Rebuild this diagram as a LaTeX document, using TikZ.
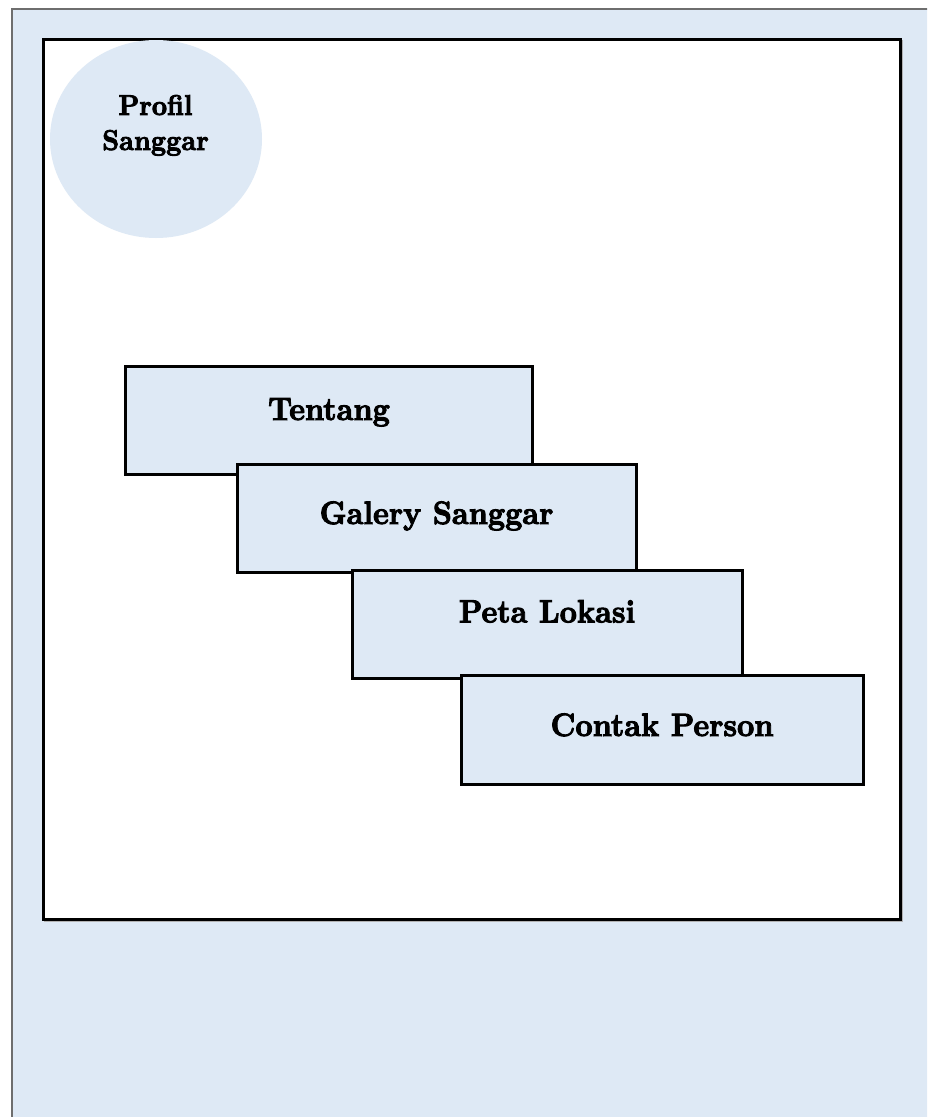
\documentclass[tikz,border=0pt]{standalone}
\usepackage{fontspec}
\newfontfamily\posterfont{lmroman10-bold.otf}[FakeBold=3]
\usetikzlibrary{shapes.geometric}
\definecolor{paleblue}{HTML}{DEE9F5}
\definecolor{pagegray}{HTML}{6E6E6E}
\newcommand\tallertext[1]{\scalebox{1.0}[1.08]{#1}}
\tikzset{
  menubox/.style={rectangle, draw=black, line width=3pt, fill=paleblue, inner sep=0pt, minimum height=108pt},
  menulabel/.style={font=\posterfont\fontsize{30}{32}\selectfont, inner sep=0pt, anchor=base},
  circlabel/.style={font=\posterfont\fontsize{26.5}{30}\selectfont, inner sep=0pt, anchor=base},
}
\begin{document}
\begin{tikzpicture}[x=1pt,y=-1pt]
\useasboundingbox (0,0) rectangle (927,1117);
\clip (0,0) rectangle (927,1117);
\fill[white] (0,0) rectangle (927,1117);
% page background
\fill[paleblue] (12,9) rectangle (940,1130);
\draw[pagegray, line width=2.2pt] (12,1130) -- (12,9) -- (940,9);
% inner frame
\draw[black!30, line width=2pt] (44.5,40.5) rectangle (901.5,920.5);
\draw[black, line width=3pt, fill=white] (43,39) rectangle (900,919);
% profile circle
\node[ellipse, fill=paleblue, inner sep=0pt, minimum width=212pt, minimum height=198pt] (prof) at (156,139) {};
\node[circlabel] (prof1) at (155.5,115) {\tallertext{Profil}};
\node[circlabel] (prof2) at (155.5,150) {\tallertext{Sanggar}};
% menu boxes
\node[menubox, minimum width=407pt] (t) at (329,420) {};
\node[menulabel] (tl) at (t.center) {\tallertext{Tentang}};
\node[menubox, minimum width=399pt] (g) at (436.5,518) {};
\node[menulabel] (gl) at ([yshift=-6pt]g.center) {\tallertext{Galery Sanggar}};
\node[menubox, minimum width=390pt] (p) at (547,624) {};
\node[menulabel] (pl) at ([yshift=1.5pt]p.center) {\tallertext{Peta Lokasi}};
\node[menubox, minimum width=402pt, minimum height=109pt] (c) at (662,729.5) {};
\node[menulabel] (cl) at ([yshift=-6.5pt]c.center) {\tallertext{Contak Person}};
\end{tikzpicture}
\end{document}
